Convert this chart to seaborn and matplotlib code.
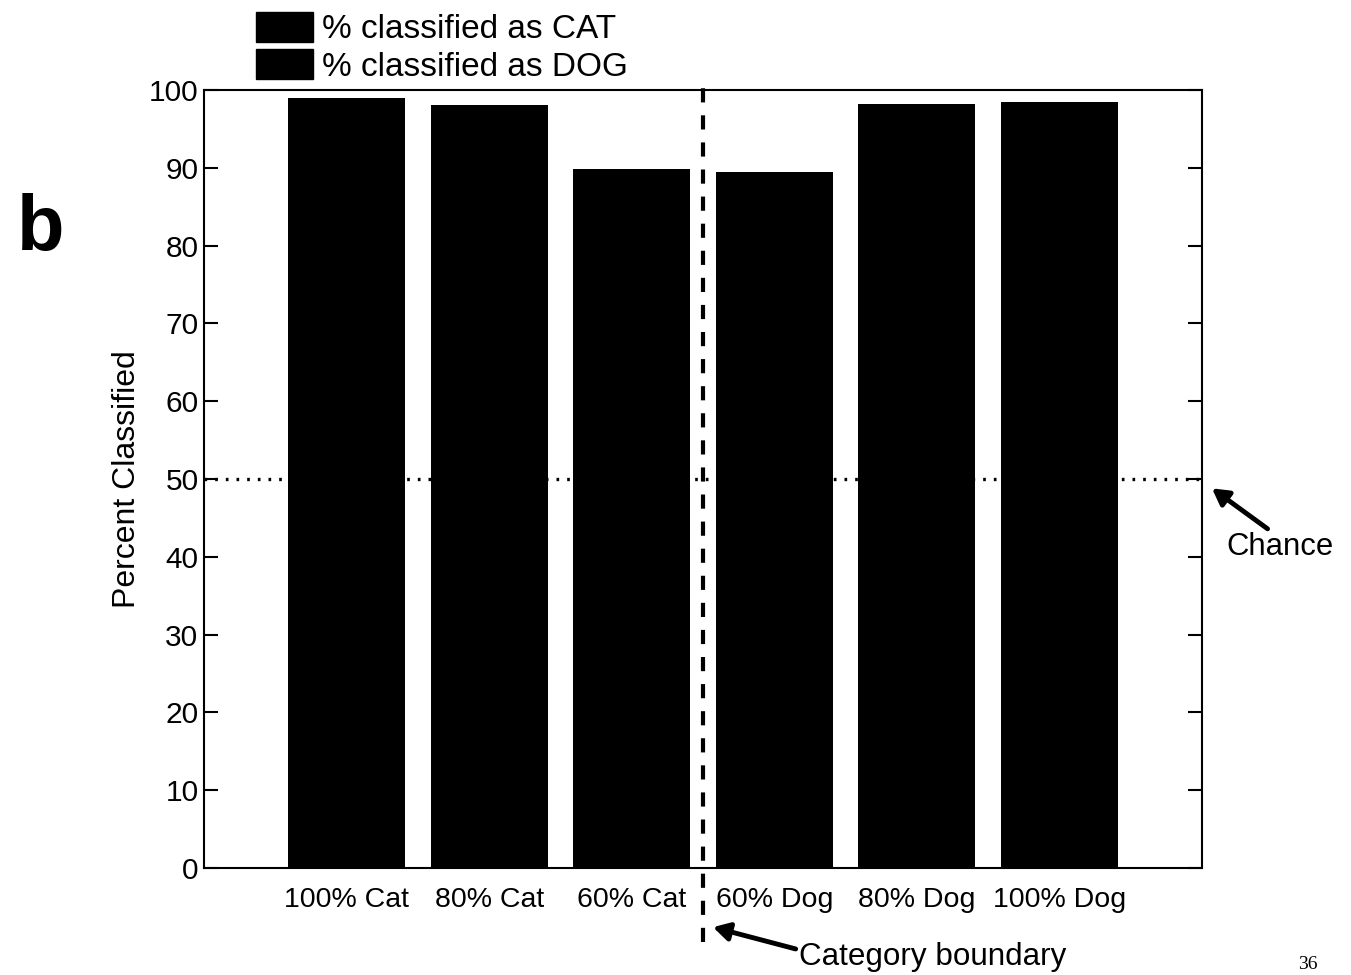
import matplotlib
matplotlib.use("Agg")
import matplotlib.pyplot as plt
import seaborn as sns
import pandas as pd
from matplotlib.patches import Patch

categories = ["100% Cat", "80% Cat", "60% Cat", "60% Dog", "80% Dog", "100% Dog"]
percent_classified = [99.0, 98.1, 89.9, 89.5, 98.2, 98.4]
series = ["% classified as CAT", "% classified as CAT", "% classified as CAT",
          "% classified as DOG", "% classified as DOG", "% classified as DOG"]
legend_labels = ["% classified as CAT", "% classified as DOG"]
y_ticks = [0, 10, 20, 30, 40, 50, 60, 70, 80, 90, 100]
chance_level = 50

sns.set_theme(style="white")
plt.rcParams['font.family'] = ['Liberation Sans', 'DejaVu Sans']
plt.rcParams.update({"text.color": "black", "axes.labelcolor": "black",
                     "xtick.color": "black", "ytick.color": "black"})

df = pd.DataFrame({"condition": categories, "pct": percent_classified, "series": series})

fig = plt.figure(figsize=(13.51, 9.75), dpi=100)
ax = fig.add_axes([0.151, 0.1097, 0.7387, 0.798])

sns.barplot(data=df, x="condition", y="pct", hue="series", order=categories,
            palette={"% classified as CAT": "black", "% classified as DOG": "black"},
            dodge=False, width=0.82, legend=False, ax=ax, saturation=1,
            edgecolor="black", linewidth=0)

ax.set_xlim(-1, 6)
ax.set_ylim(0, 100)
ax.set_yticks(y_ticks)
ax.set_yticklabels([str(t) for t in y_ticks], fontsize=21.5)
ax.tick_params(axis="y", direction="in", length=10, width=1.5, right=True, left=True,
               labelright=False, pad=4, colors="black")
ax.tick_params(axis="x", length=0, pad=14, labelsize=20.5, colors="black")
ax.set_xlabel("")
ax.set_ylabel("Percent Classified", fontsize=23, labelpad=5, color="black")
for s in ax.spines.values():
    s.set_visible(True)
    s.set_color("black")
    s.set_linewidth(1.5)

# chance line (dotted) and category boundary (dashed)
ax.plot([-1, 6], [chance_level, chance_level], color="black", lw=2.4,
        linestyle=(0, (0.8, 2.4)), zorder=1, clip_on=False)
ax.plot([2.5, 2.5], [-9.5, 101.2], color="black", lw=3,
        linestyle=(0, (3.4, 3.1)), zorder=5, clip_on=False)

# annotations
arrow = dict(arrowstyle="-|>,head_length=0.8,head_width=0.45",
             color="black", lw=3.5, shrinkA=0, shrinkB=0)
ax.annotate("", xy=(6.07, 48.8), xytext=(6.46, 43.6), annotation_clip=False,
            arrowprops=arrow)
ax.text(6.55, 41.2, "Chance", fontsize=22.3, ha="center", va="center", clip_on=False)
ax.annotate("", xy=(2.57, -7.6), xytext=(3.15, -10.4), annotation_clip=False,
            arrowprops=arrow)
ax.text(3.17, -11.4, "Category boundary", fontsize=22.6, ha="left", va="center",
        clip_on=False)

# legend
handles = [Patch(facecolor="black", edgecolor="black", label=l) for l in legend_labels]
fig.legend(handles=handles, loc="upper left", bbox_to_anchor=(0.1775, 1.005),
           frameon=False, fontsize=24, handlelength=1.7, handleheight=1.0,
           handletextpad=0.28, labelspacing=0.13, borderpad=0.0)

fig.text(0.03, 0.765, "b", fontsize=56, fontweight="bold", ha="center", va="center")
fig.text(0.968, 0.002, "36", fontsize=14, family="Liberation Serif", ha="center", va="bottom")

fig.savefig("out.png", dpi=100)
